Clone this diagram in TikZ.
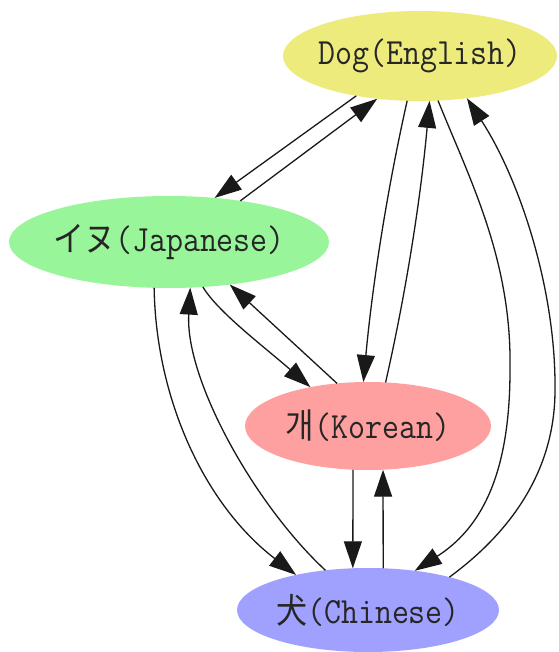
\documentclass[tikz,border=0pt]{standalone}
\usepackage{fontspec}
\newfontfamily\cjk{Noto Sans CJK JP}
\usetikzlibrary{shapes.geometric,arrows.meta}
\definecolor{engcol}{RGB}{238,235,125}
\definecolor{jpcol}{RGB}{153,245,153}
\definecolor{kocol}{RGB}{255,160,160}
\definecolor{cncol}{RGB}{160,160,255}
\newcommand{\lbl}[1]{\makebox[0pt]{\scalebox{1}[1.12]{\fontsize{33}{34}\selectfont\ttfamily #1}}}
\newcommand{\cj}[1]{{\cjk\fontsize{31}{34}\selectfont #1}}
\begin{document}
\begin{tikzpicture}[x=1pt,y=-1pt,
  lang/.style={ellipse,inner sep=0pt,outer sep=0pt,text=black!85},
  edge/.style={line width=1.3pt,black!90,-{Triangle[length=27pt,width=18pt]}}]
\useasboundingbox (0,0) rectangle (558,652);
\node[lang,fill=engcol,minimum width=274pt,minimum height=90pt] (E) at (420,56) {\lbl{Dog(English)}};
\node[lang,fill=jpcol,minimum width=320pt,minimum height=92pt] (J) at (169,242) {\lbl{\cj{イヌ}(Japanese)}};
\node[lang,fill=kocol,minimum width=246pt,minimum height=88pt] (K) at (368,426) {\lbl{\cj{개}(Korean)}};
\node[lang,fill=cncol,minimum width=262pt,minimum height=84pt] (C) at (368,610) {\lbl{\cj{犬}(Chinese)}};
% English <-> Japanese
\draw[edge] (E.-148) -- (J.44);
\draw[edge] (J.30) -- (E.-135);
% English <-> Korean
\draw[edge] (E.-106) .. controls (386,195) and (372,289) .. (K.96);
\draw[edge] (K.68) .. controls (407,288) and (421,195) .. (E.-78);
% English <-> Chinese
\draw[edge] (E.-68) .. controls (470,180) and (512,260) .. (510,370) .. controls (510,480) and (478,530) .. (C.40);
\draw[edge] (C.22) .. controls (500,540) and (555,480) .. (555,390) .. controls (556,290) and (520,180) .. (E.-42);
% Japanese <-> Korean
\draw[edge] (J.-53) .. controls (218,312) and (262,345) .. (K.146);
\draw[edge] (K.126) -- (J.-35);
% Japanese <-> Chinese
\draw[edge] (J.-108) .. controls (156,400) and (205,505) .. (C.154);
\draw[edge] (C.137) .. controls (255,505) and (185,380) .. (J.-65);
% Korean <-> Chinese
\draw[edge] (K.-109) -- (C.110);
\draw[edge] (C.70) -- (K.-71);
\end{tikzpicture}
\end{document}
